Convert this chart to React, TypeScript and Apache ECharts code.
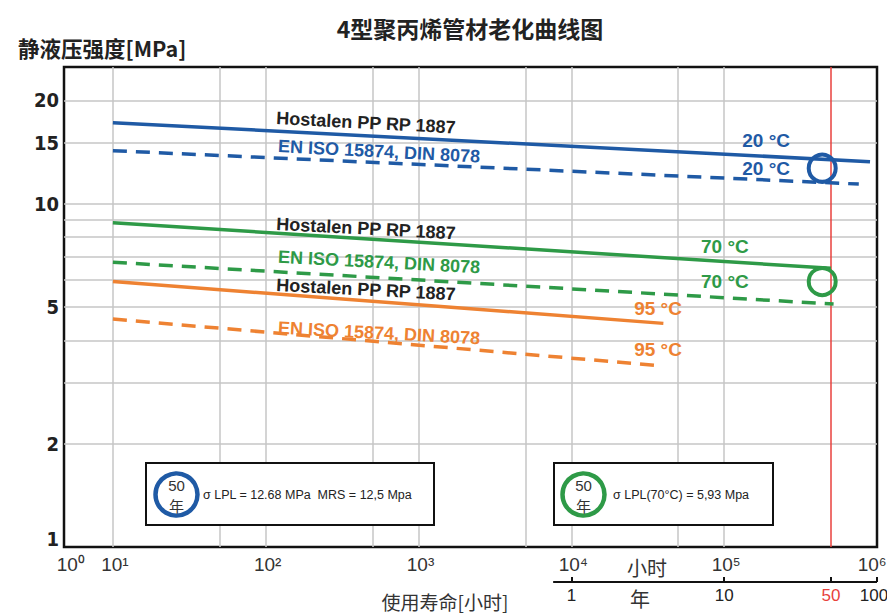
import React, { useEffect, useRef } from 'react';
import * as echarts from 'echarts';

const SANS = "'Liberation Sans', Arial, sans-serif";
const COND = "'DejaVu Sans Condensed', 'Liberation Sans', sans-serif";
const CJK = "'Noto Sans CJK SC', sans-serif";

const BLUE = '#1f5aa5';
const GREEN = '#2e9a47';
const ORANGE = '#ee8232';
const RED = '#e8413c';
const GRIDC = '#c6c6c6';

// texts
const titleText = '4型聚丙烯管材老化曲线图';
const yAxisName = '静液压强度[MPa]';
const xAxisName = '使用寿命[小时]';
const hourUnit = '小时';
const yearUnit = '年';
const hostalenName = 'Hostalen PP RP 1887';
const isoName = 'EN ISO 15874, DIN 8078';

// axis extents
const HOUR_MIN = Math.pow(10, 0.68);
const HOUR_MAX = 1e6;
const MPA_MIN = 1;
const MPA_MAX = 25;

// grid lines & tick labels
const hourGridValues = [10, 50, 100, 500, 1000, 5000, 10000, 50000, 100000];
const hourLabelValues = [5.3, 10.3, 103, 1030, 10300, 103000, 930000];
const hourLabelTexts = ['10⁰', '10¹', '10²', '10³', '10⁴', '10⁵', '10⁶'];
const mpaGridValues = [2, 3, 4, 5, 6, 7, 8, 9, 10, 15, 20];
const mpaLabelValues = [1, 2, 5, 10, 15, 20];

// year axis (chart convention: 1 year drawn at 10^4 h)
const HOURS_PER_YEAR_ON_CHART = 1e4;
const yearTickValues = [1, 10, 50, 100];
const yearAxisStart = 0.76;
const fiftyYearLine = 5e5;

// series data [hours, MPa]
const hostalen20 = [[10, 17.2], [9.0e5, 13.25]];
const iso20 = [[10, 14.26], [7.6e5, 11.4]];
const hostalen70 = [[10, 8.8], [5e5, 6.48]];
const iso70 = [[10, 6.75], [5.2e5, 5.1]];
const hostalen95 = [[10, 5.93], [4.0e4, 4.48]];
const iso95 = [[10, 4.61], [3.9e4, 3.37]];

// 50-year markers
const ring20 = [[438000, 12.68]];
const ring70 = [[438000, 5.93]];

// annotation anchors [hours, MPa]
const hostalen20Pos = [453, 17.2];
const iso20Pos = [552, 14.2];
const hostalen70Pos = [453, 8.46];
const iso70Pos = [552, 6.76];
const hostalen95Pos = [453, 5.62];
const iso95Pos = [552, 4.2];
const temp20Upper = [1.88e5, 15.3];
const temp20Lower = [1.88e5, 12.67];
const temp70Upper = [1.01e5, 7.49];
const temp70Lower = [1.01e5, 5.93];
const temp95Upper = [3.69e4, 4.96];
const temp95Lower = [3.69e4, 3.77];

const annot = (coord: number[], text: string, color: string, rotate = 0, fontSize = 18) => ({
  coord,
  symbol: 'circle',
  symbolSize: 1,
  itemStyle: { color: 'rgba(0,0,0,0)' },
  label: {
    show: true,
    position: 'inside',
    formatter: text,
    color,
    rotate,
    fontSize,
    fontWeight: 'bold',
    fontFamily: SANS,
  },
});

const dataLine = (name: string, data: number[][], color: string, dashed: boolean, marks: any[]) => ({
  name,
  type: 'line',
  xAxisIndex: 0,
  yAxisIndex: 0,
  data,
  symbol: 'none',
  z: 5,
  lineStyle: { color, width: 3.5, type: dashed ? [14, 9] : 'solid', cap: 'butt' },
  markPoint: { silent: true, z: 6, data: marks },
});

export default function App() {
  const ref = useRef<HTMLDivElement>(null);
  useEffect(() => {
    if (!ref.current) return;
    const chart = echarts.init(ref.current, null, { renderer: 'svg' });
    const H = HOURS_PER_YEAR_ON_CHART;
    const option: any = {
      animation: false,
      backgroundColor: '#fff',
      grid: [
        { left: 64, right: 10, top: 67, bottom: 68, show: true, borderColor: '#111', borderWidth: 2.5, backgroundColor: '#fff' },
        { left: 64, right: 10, top: 562, height: 20, show: false },
      ],
      xAxis: [
        { type: 'log', gridIndex: 0, min: HOUR_MIN, max: HOUR_MAX, axisLine: { show: false }, axisTick: { show: false }, axisLabel: { show: false }, splitLine: { show: false } },
        { type: 'log', gridIndex: 1, min: HOUR_MIN, max: HOUR_MAX, axisLine: { show: false }, axisTick: { show: false }, axisLabel: { show: false }, splitLine: { show: false } },
      ],
      yAxis: [
        { type: 'log', gridIndex: 0, min: MPA_MIN, max: MPA_MAX, axisLine: { show: false }, axisTick: { show: false }, axisLabel: { show: false }, splitLine: { show: false } },
        { type: 'value', gridIndex: 1, min: 0, max: 1, axisLine: { show: false }, axisTick: { show: false }, axisLabel: { show: false }, splitLine: { show: false } },
      ],
      graphic: [
        { type: 'text', x: 470, y: 28, z: 100, style: { text: titleText, fontSize: 23, fontWeight: 'bold', fontFamily: CJK, fill: '#222', textAlign: 'center', textVerticalAlign: 'middle' } },
        { type: 'text', x: 18, y: 47, z: 100, style: { text: yAxisName, fontSize: 21.5, fontWeight: 'bold', fontFamily: CJK, fill: '#222', textAlign: 'left', textVerticalAlign: 'middle' } },
        { type: 'text', x: 445, y: 601, z: 100, style: { text: xAxisName, fontSize: 19, fontFamily: CJK, fill: '#333', textAlign: 'center', textVerticalAlign: 'middle' } },
        { type: 'text', x: 647, y: 567, z: 100, style: { text: hourUnit, fontSize: 20, fontFamily: CJK, fill: '#333', textAlign: 'center', textVerticalAlign: 'middle' } },
        { type: 'text', x: 640, y: 598, z: 100, style: { text: yearUnit, fontSize: 20, fontFamily: CJK, fill: '#333', textAlign: 'center', textVerticalAlign: 'middle' } },
        // box 1
        { type: 'rect', z: 100, shape: { x: 146, y: 463, width: 288, height: 62 }, style: { fill: '#fff', stroke: '#111', lineWidth: 2 } },
        { type: 'circle', z: 101, shape: { cx: 176.5, cy: 494.5, r: 21 }, style: { fill: '#fff', stroke: BLUE, lineWidth: 4.5 } },
        { type: 'text', x: 176.5, y: 485, z: 102, style: { text: '50', fontSize: 15, fontFamily: SANS, fill: '#333', textAlign: 'center', textVerticalAlign: 'middle' } },
        { type: 'text', x: 176.5, y: 505, z: 102, style: { text: '年', fontSize: 15, fontFamily: CJK, fill: '#333', textAlign: 'center', textVerticalAlign: 'middle' } },
        { type: 'text', x: 203, y: 494.5, z: 102, style: { text: 'σ LPL = 12.68 MPa  MRS = 12,5 Mpa', fontSize: 12.5, fontFamily: SANS, fill: '#222', textAlign: 'left', textVerticalAlign: 'middle' } },
        // box 2
        { type: 'rect', z: 100, shape: { x: 554, y: 463, width: 219, height: 62 }, style: { fill: '#fff', stroke: '#111', lineWidth: 2 } },
        { type: 'circle', z: 101, shape: { cx: 583.5, cy: 494.5, r: 21 }, style: { fill: '#fff', stroke: GREEN, lineWidth: 4.5 } },
        { type: 'text', x: 583.5, y: 485, z: 102, style: { text: '50', fontSize: 15, fontFamily: SANS, fill: '#333', textAlign: 'center', textVerticalAlign: 'middle' } },
        { type: 'text', x: 583.5, y: 505, z: 102, style: { text: '年', fontSize: 15, fontFamily: CJK, fill: '#333', textAlign: 'center', textVerticalAlign: 'middle' } },
        { type: 'text', x: 613, y: 494.5, z: 102, style: { text: 'σ LPL(70°C) = 5,93 Mpa', fontSize: 12.5, fontFamily: SANS, fill: '#222', textAlign: 'left', textVerticalAlign: 'middle' } },
      ],
      series: [
        // grid lines
        {
          type: 'line', xAxisIndex: 0, yAxisIndex: 0, data: [], z: 1,
          markLine: {
            silent: true, symbol: ['none', 'none'], z: 1,
            lineStyle: { color: GRIDC, width: 1.5, type: 'solid' },
            label: { show: false },
            data: [
              ...hourGridValues.map((v) => ({ xAxis: v })),
              ...mpaGridValues.map((v) => ({ yAxis: v })),
            ],
          },
        },
        // red 50-year line
        {
          type: 'line', xAxisIndex: 0, yAxisIndex: 0, data: [], z: 2,
          markLine: {
            silent: true, symbol: ['none', 'none'], z: 2,
            lineStyle: { color: RED, width: 1.5, type: 'solid' },
            label: { show: false },
            data: [{ xAxis: fiftyYearLine }],
          },
        },
        // tick labels (hour & MPa)
        {
          type: 'line', xAxisIndex: 0, yAxisIndex: 0, data: [], z: 3,
          markLine: {
            silent: true, symbol: ['none', 'none'], z: 3,
            lineStyle: { color: 'rgba(0,0,0,0)', width: 0 },
            data: [
              ...hourLabelValues.map((v, i) => ({
                xAxis: v,
                label: { show: true, position: 'start', distance: 8, formatter: hourLabelTexts[i], fontSize: 19, fontFamily: SANS, color: '#333' },
              })),
              ...mpaLabelValues.map((v) => ({
                yAxis: v,
                label: { show: true, position: 'start', distance: 5, formatter: String(v), fontSize: 20, fontWeight: 'bold', fontFamily: COND, color: '#222', offset: v === 1 ? [0, -8] : [0, 0] },
              })),
            ],
          },
        },
        // year axis
        {
          type: 'line', xAxisIndex: 1, yAxisIndex: 1, data: [], z: 3,
          markLine: {
            silent: true, symbol: ['none', 'none'], z: 3,
            lineStyle: { color: '#111', width: 2, type: 'solid' },
            data: [
              [{ coord: [yearAxisStart * H, 0], label: { show: false } }, { coord: [100 * H, 0] }],
              ...yearTickValues.map((y) => [
                {
                  coord: [y * H, 0],
                  label: { show: true, position: 'start', distance: 5, formatter: String(y), fontSize: 17, fontFamily: SANS, color: y === 50 ? RED : '#222', offset: y === 100 ? [-3, 0] : [0, 0] },
                },
                { coord: [y * H, 0.25] },
              ]),
            ],
          },
        },
        dataLine('Hostalen 20', hostalen20, BLUE, false, [annot(hostalen20Pos, hostalenName, '#222', -3), annot(temp20Upper, '20 °C', BLUE, 0, 19)]),
        dataLine('ISO 20', iso20, BLUE, true, [annot(iso20Pos, isoName, BLUE, -3), annot(temp20Lower, '20 °C', BLUE, 0, 19)]),
        dataLine('Hostalen 70', hostalen70, GREEN, false, [annot(hostalen70Pos, hostalenName, '#222', -3), annot(temp70Upper, '70 °C', GREEN, 0, 19)]),
        dataLine('ISO 70', iso70, GREEN, true, [annot(iso70Pos, isoName, GREEN, -3), annot(temp70Lower, '70 °C', GREEN, 0, 19)]),
        dataLine('Hostalen 95', hostalen95, ORANGE, false, [annot(hostalen95Pos, hostalenName, '#222', -3), annot(temp95Upper, '95 °C', ORANGE, 0, 19)]),
        dataLine('ISO 95', iso95, ORANGE, true, [annot(iso95Pos, isoName, ORANGE, -3), annot(temp95Lower, '95 °C', ORANGE, 0, 19)]),
        {
          type: 'scatter', xAxisIndex: 0, yAxisIndex: 0, data: ring20, z: 7, silent: true,
          symbol: 'circle', symbolSize: 27,
          itemStyle: { color: 'rgba(0,0,0,0)', borderColor: BLUE, borderWidth: 4, opacity: 1 },
        },
        {
          type: 'scatter', xAxisIndex: 0, yAxisIndex: 0, data: ring70, z: 7, silent: true,
          symbol: 'circle', symbolSize: 27,
          itemStyle: { color: 'rgba(0,0,0,0)', borderColor: GREEN, borderWidth: 4, opacity: 1 },
        },
      ],
    };
    chart.setOption(option);
    return () => chart.dispose();
  }, []);
  return <div ref={ref} style={{ position: 'absolute', left: 0, top: 0, width: 887, height: 615 }} />;
}
